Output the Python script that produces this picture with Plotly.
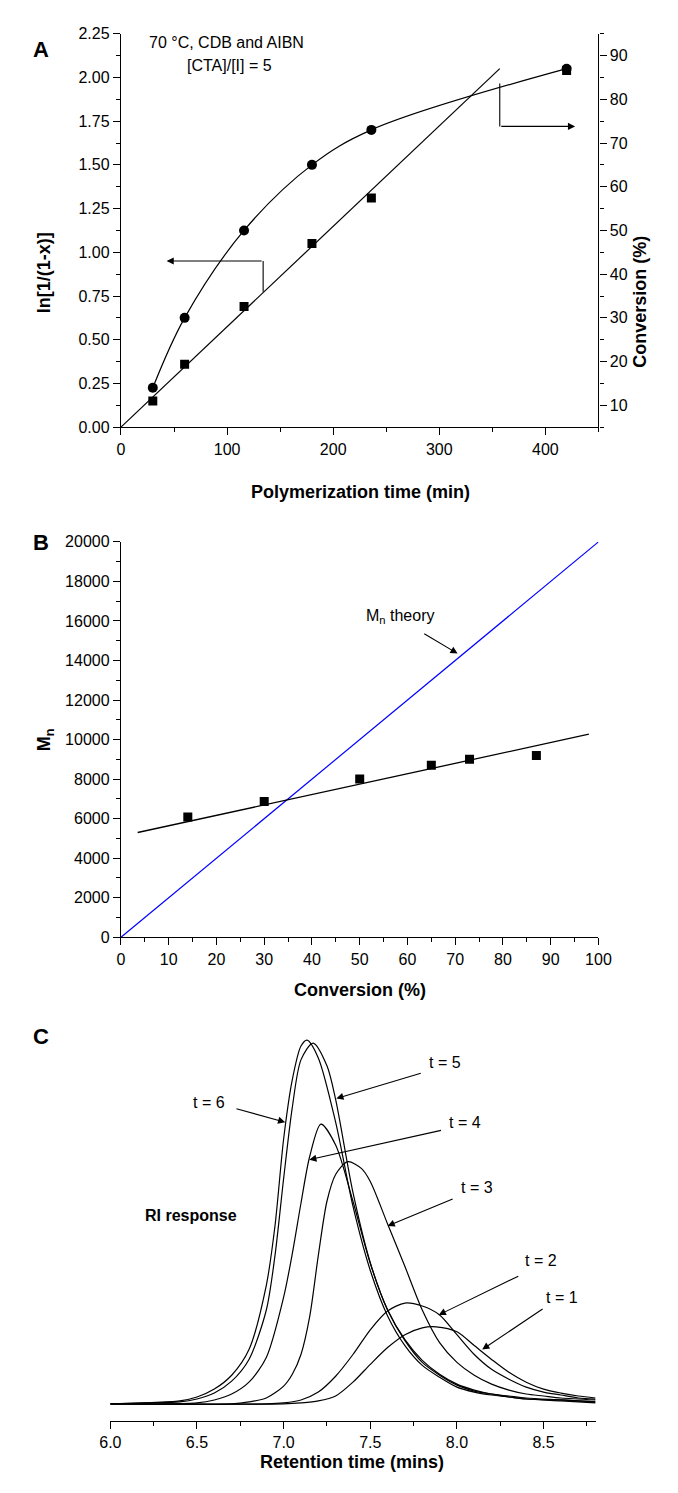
import plotly.graph_objects as go

# ---------------- Panel A data ----------------
time_min = [30, 60, 116, 180, 236, 420]
ln_vals = [0.15, 0.36, 0.69, 1.05, 1.31, 2.04]
conv_pct = [14, 30, 50, 65, 73, 87]
fitA_x = [0, 357]
fitA_y = [0.0, 2.05]

# ---------------- Panel B data ----------------
convB = [14, 30, 50, 65, 73, 87]
mnB = [6080, 6870, 8000, 8700, 9000, 9200]
fitB_x = [3.5, 98]
fitB_y = [5300, 10270]
theory_x = [0, 100]
theory_y = [0, 20000]

# ---------------- Panel C data (RI response) ----------------
rt_t6 = [6.0, 6.2, 6.4, 6.5, 6.6, 6.7, 6.8, 6.9, 6.95, 7.0, 7.05, 7.1, 7.135, 7.2, 7.3, 7.4, 7.5, 7.6, 7.7, 7.8, 7.9, 8.0, 8.1, 8.2, 8.3, 8.4, 8.6, 8.8]
ri_t6 = [0, 1, 3, 7, 15, 29, 55, 120, 180, 268, 328, 362, 368, 350, 285, 200, 135, 89, 59, 39, 27, 17, 12, 9, 7, 5, 3, 1]
rt_t5 = [6.0, 6.2, 6.4, 6.5, 6.6, 6.7, 6.8, 6.9, 6.95, 7.0, 7.05, 7.1, 7.17, 7.25, 7.3, 7.4, 7.5, 7.6, 7.7, 7.8, 7.9, 8.0, 8.1, 8.2, 8.3, 8.4, 8.6, 8.8]
ri_t5 = [0, 1, 2, 5, 11, 23, 45, 95, 150, 228, 300, 348, 365, 342, 308, 214, 143, 95, 64, 42, 29, 19, 13, 10, 7, 5, 4, 2]
rt_t4 = [6.0, 6.3, 6.5, 6.6, 6.7, 6.8, 6.9, 7.0, 7.05, 7.1, 7.15, 7.215, 7.3, 7.4, 7.5, 7.6, 7.7, 7.8, 7.9, 8.0, 8.1, 8.2, 8.3, 8.4, 8.6, 8.8]
ri_t4 = [0, 0, 1, 4, 10, 22, 47, 108, 152, 203, 250, 283, 262, 205, 142, 95, 65, 44, 30, 20, 14, 10, 8, 6, 4, 2]
rt_t3 = [6.0, 6.7, 6.8, 6.9, 7.0, 7.05, 7.1, 7.15, 7.2, 7.25, 7.3, 7.37, 7.45, 7.5, 7.6, 7.7, 7.8, 7.9, 8.0, 8.1, 8.2, 8.3, 8.4, 8.5, 8.6, 8.8]
ri_t3 = [0, 0, 2, 6, 18, 30, 50, 88, 150, 205, 232, 245, 238, 225, 182, 139, 95, 62, 42, 29, 20, 14, 10, 8, 6, 4]
rt_t2 = [6.0, 6.9, 7.0, 7.1, 7.2, 7.3, 7.4, 7.5, 7.6, 7.7, 7.8, 7.9, 8.0, 8.1, 8.2, 8.3, 8.4, 8.5, 8.6, 8.7, 8.8]
ri_t2 = [0, 0, 1, 4, 12, 28, 50, 75, 94, 102, 99, 90, 70, 50, 35, 25, 17, 12, 9, 6, 5]
rt_t1 = [6.0, 7.0, 7.1, 7.2, 7.3, 7.4, 7.5, 7.6, 7.7, 7.8, 7.88, 8.0, 8.1, 8.2, 8.3, 8.4, 8.5, 8.6, 8.7, 8.8]
ri_t1 = [0, 0, 1, 3, 8, 22, 40, 57, 70, 77, 78, 73, 59, 45, 32, 22, 15, 11, 8, 6]

curve_labels = ["t = 1", "t = 2", "t = 3", "t = 4", "t = 5", "t = 6"]

FONT = "Liberation Sans, Arial, Helvetica, sans-serif"
W, H = 678, 1493


def px_x(p):
    return p / W


def px_y(p):
    return 1 - p / H


xdomAB = [px_x(114), px_x(609)]
xdomC = [px_x(103), px_x(606)]
ydomA = [px_y(424), px_y(26)]
ydomB = [px_y(940), px_y(540)]
ydomC = [px_y(1429), px_y(1029)]

fig = go.Figure()

# Panel A
fig.add_trace(go.Scatter(x=fitA_x, y=fitA_y, mode="lines", line=dict(color="black", width=1.2),
                         xaxis="x", yaxis="y", showlegend=False))
fig.add_trace(go.Scatter(x=time_min, y=ln_vals, mode="markers",
                         marker=dict(symbol="square", size=9, color="black"),
                         xaxis="x", yaxis="y", showlegend=False))
fig.add_trace(go.Scatter(x=time_min, y=conv_pct, mode="lines+markers",
                         line=dict(color="black", width=1.2, shape="spline", smoothing=1.0),
                         marker=dict(symbol="circle", size=10, color="black"),
                         xaxis="x", yaxis="y2", showlegend=False))

# Panel B
fig.add_trace(go.Scatter(x=theory_x, y=theory_y, mode="lines", line=dict(color="#0000ff", width=1.2),
                         xaxis="x2", yaxis="y3", showlegend=False))
fig.add_trace(go.Scatter(x=fitB_x, y=fitB_y, mode="lines", line=dict(color="black", width=1.3),
                         xaxis="x2", yaxis="y3", showlegend=False))
fig.add_trace(go.Scatter(x=convB, y=mnB, mode="markers",
                         marker=dict(symbol="square", size=9, color="black"),
                         xaxis="x2", yaxis="y3", showlegend=False))

# Panel C
for rx, ry in [(rt_t1, ri_t1), (rt_t2, ri_t2), (rt_t3, ri_t3), (rt_t4, ri_t4), (rt_t5, ri_t5), (rt_t6, ri_t6)]:
    fig.add_trace(go.Scatter(x=rx, y=ry, mode="lines",
                             line=dict(color="black", width=1.2, shape="spline", smoothing=0.8),
                             xaxis="x3", yaxis="y4", showlegend=False))

tickfont = dict(family=FONT, size=16, color="black")
axis_common = dict(showline=True, linecolor="black", linewidth=1.3, ticks="outside", ticklen=7,
                   tickwidth=1.2, tickcolor="black", showgrid=False, zeroline=False, tickfont=tickfont)

fig.update_layout(
    width=W, height=H,
    margin=dict(l=0, r=0, t=0, b=0),
    paper_bgcolor="white", plot_bgcolor="white",
    font=dict(family=FONT, color="black"),
    xaxis=dict(domain=xdomAB, anchor="y", range=[0, 450], tick0=0, dtick=100,
               minor=dict(ticks="outside", dtick=50, ticklen=4, tickcolor="black"), **axis_common),
    yaxis=dict(domain=ydomA, anchor="x", range=[0, 2.25], tick0=0, dtick=0.25, tickformat=".2f",
               minor=dict(ticks="outside", dtick=0.125, ticklen=4, tickcolor="black"), **axis_common),
    yaxis2=dict(overlaying="y", side="right", anchor="x", range=[5, 95], tick0=10, dtick=10,
                minor=dict(ticks="outside", tick0=5, dtick=5, ticklen=4, tickcolor="black"), **axis_common),
    xaxis2=dict(domain=xdomAB, anchor="y3", range=[0, 100], tick0=0, dtick=10,
                minor=dict(ticks="outside", dtick=5, ticklen=4, tickcolor="black"), **axis_common),
    yaxis3=dict(domain=ydomB, anchor="x2", range=[0, 20000], tick0=0, dtick=2000, tickformat="d",
                minor=dict(ticks="outside", dtick=1000, ticklen=4, tickcolor="black"), **axis_common),
    xaxis3=dict(domain=xdomC, anchor="y4", range=[6.0, 8.8], tick0=6.0, dtick=0.5, tickformat=".1f",
                minor=dict(ticks="outside", dtick=0.25, ticklen=4, tickcolor="black"), **axis_common),
    yaxis4=dict(domain=ydomC, anchor="x3", range=[-17, 383], visible=False),
)

ann = []
titlefont = dict(family=FONT, size=18, color="black")
# Panel letters
for letter, py in [("A", 27), ("B", 541), ("C", 1055)]:
    ann.append(dict(text="<b>%s</b>" % letter, xref="paper", yref="paper", x=px_x(21), y=px_y(py),
                    showarrow=False, font=dict(family=FONT, size=22, color="black")))
# Axis titles
ann.append(dict(text="<b>Polymerization time (min)</b>", xref="paper", yref="paper",
                x=px_x(362), y=px_y(477), showarrow=False, font=titlefont))
ann.append(dict(text="<b>ln[1/(1-x)]</b>", xref="paper", yref="paper", x=px_x(22), y=px_y(225),
                textangle=-90, showarrow=False, font=titlefont))
ann.append(dict(text="<b>Conversion (%)</b>", xref="paper", yref="paper", x=px_x(665), y=px_y(228),
                textangle=-90, showarrow=False, font=titlefont))
ann.append(dict(text="<b>Conversion (%)</b>", xref="paper", yref="paper", x=px_x(362), y=px_y(993),
                showarrow=False, font=titlefont))
ann.append(dict(text="<b>M<sub>n</sub></b>", xref="paper", yref="paper", x=px_x(22), y=px_y(740),
                textangle=-90, showarrow=False, font=titlefont))
ann.append(dict(text="<b>Retention time (mins)</b>", xref="paper", yref="paper", x=px_x(354), y=px_y(1483),
                showarrow=False, font=titlefont))

# Panel A texts
labfont = dict(family=FONT, size=16, color="black")
ann.append(dict(text="70 °C, CDB and AIBN", xref="x", yref="y", x=99, y=2.2, showarrow=False, font=labfont))
ann.append(dict(text="[CTA]/[I] = 5", xref="x", yref="y", x=102, y=2.07, showarrow=False, font=labfont))
# Panel A arrows (bracket + arrow)
fig.add_shape(type="line", xref="x", yref="y", x0=134, y0=0.775, x1=134, y1=0.95,
              line=dict(color="black", width=1.1))
ann.append(dict(text="", xref="x", yref="y", axref="x", ayref="y", x=43, y=0.95, ax=134, ay=0.95,
                showarrow=True, arrowhead=2, arrowsize=1.3, arrowwidth=1.1, arrowcolor="black"))
fig.add_shape(type="line", xref="x", yref="y", x0=357, y0=1.965, x1=357, y1=1.72,
              line=dict(color="black", width=1.1))
ann.append(dict(text="", xref="x", yref="y", axref="x", ayref="y", x=428, y=1.72, ax=357, ay=1.72,
                showarrow=True, arrowhead=2, arrowsize=1.3, arrowwidth=1.1, arrowcolor="black"))

# Panel B annotation
ann.append(dict(text="M<sub>n</sub> theory", xref="x2", yref="y3", x=58.4, y=16250, showarrow=False,
                font=labfont))
ann.append(dict(text="", xref="x2", yref="y3", axref="x2", ayref="y3", x=70.5, y=14350, ax=63.2, ay=15400,
                showarrow=True, arrowhead=2, arrowsize=1.3, arrowwidth=1.1, arrowcolor="black"))

# Panel C labels
ann.append(dict(text="<b>RI response</b>", xref="x3", yref="y4", x=6.463, y=191, showarrow=False,
                font=dict(family=FONT, size=16, color="black")))
c_text = {"t = 6": (6.569, 305), "t = 5": (7.929, 345), "t = 4": (8.046, 285),
          "t = 3": (8.113, 219), "t = 2": (8.486, 145), "t = 1": (8.609, 108)}
c_arrow = {"t = 6": ((6.719, 299), (7.009, 285)), "t = 5": ((7.800, 335), (7.304, 309)),
           "t = 4": ((7.917, 277), (7.148, 247)), "t = 3": ((7.984, 208), (7.600, 180)),
           "t = 2": ((8.363, 130), (7.895, 90)), "t = 1": ((8.503, 97), (8.146, 55))}
for lab in curve_labels:
    tx, ty = c_text[lab]
    ann.append(dict(text=lab, xref="x3", yref="y4", x=tx, y=ty, showarrow=False, font=labfont))
    (ax0, ay0), (hx, hy) = c_arrow[lab]
    ann.append(dict(text="", xref="x3", yref="y4", axref="x3", ayref="y4", x=hx, y=hy, ax=ax0, ay=ay0,
                    showarrow=True, arrowhead=2, arrowsize=1.3, arrowwidth=1.1, arrowcolor="black"))

fig.update_layout(annotations=ann)
fig.write_html("out.html")
